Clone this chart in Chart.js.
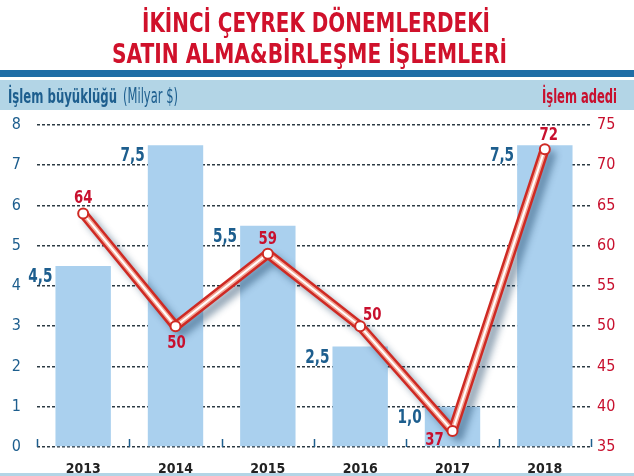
<!DOCTYPE html>
<html lang="tr">
<head>
    <meta charset="UTF-8">
    <title>Satın alma & birleşme işlemleri</title>
    <script src="https://cdn.jsdelivr.net/npm/chart.js"></script>
    <style>
        html, body { margin: 0; padding: 0; background: #fff; }
        #wrap { width: 634px; height: 476px; position: relative; }
    </style>
</head>
<body>
    <div id="wrap"><canvas id="grafik" width="634" height="476"></canvas></div>

    <script>
        // Veriler
        const yillar = ['2013', '2014', '2015', '2016', '2017', '2018'];
        const islemBuyuklugu = [4.5, 7.5, 5.5, 2.5, 1.0, 7.5];   // Milyar $
        const islemAdedi = [64, 50, 59, 50, 37, 72];
        const solEksen = { min: 0, max: 8, adim: 1 };
        const sagEksen = { min: 35, max: 75, adim: 5 };

        const baslik = ['İKİNCİ ÇEYREK DÖNEMLERDEKİ', 'SATIN ALMA&BİRLEŞME İŞLEMLERİ'];

        const NARROW = '"Liberation Sans Narrow", "DejaVu Sans Condensed", "Roboto Condensed", sans-serif';
        const MAVI = '#1d5e8e';
        const KIRMIZI = '#c8102e';

        // metni verilen genişliğe sıkıştırarak yaz
        function sigdir(ctx, text, x, y, w, font, color, align) {
            ctx.save();
            ctx.font = font;
            ctx.fillStyle = color;
            ctx.textBaseline = 'alphabetic';
            ctx.textAlign = align;
            const m = ctx.measureText(text).width;
            ctx.translate(x, y);
            ctx.scale(w / m, 1);
            ctx.fillText(text, 0, 0);
            ctx.restore();
        }

        // metni yatayda oranla daralt
        function dar(ctx, text, x, y, oran) {
            ctx.save();
            ctx.translate(x, y);
            ctx.scale(oran, 1);
            ctx.fillText(text, 0, 0);
            ctx.restore();
        }

        // başlık + bantlar
        const ustKisim = {
            id: 'ustKisim',
            beforeDraw(chart) {
                const ctx = chart.ctx;
                ctx.save();
                ctx.fillStyle = '#1f6ea6';
                ctx.fillRect(0, 70, 634, 7);
                ctx.fillStyle = '#b3d5e6';
                ctx.fillRect(0, 80, 634, 30);
                ctx.fillStyle = '#b3d5e6';
                ctx.fillRect(0, 473, 634, 3);
                ctx.restore();

                sigdir(ctx, baslik[0], 142, 32, 348, 'bold 26px ' + NARROW, '#d0112b', 'left');
                sigdir(ctx, baslik[1], 112, 63, 395, 'bold 26px ' + NARROW, '#d0112b', 'left');

                sigdir(ctx, 'İşlem büyüklüğü', 8, 103, 109, 'bold 19px ' + NARROW, MAVI, 'left');
                sigdir(ctx, '(Milyar $)', 123, 103, 55, '21px ' + NARROW, MAVI, 'left');
                sigdir(ctx, 'İşlem adedi', 542, 103, 75, 'bold 19px ' + NARROW, KIRMIZI, 'left');
            }
        };

        // kategori sınırlarındaki küçük çentikler
        const centikler = {
            id: 'centikler',
            beforeDatasetsDraw(chart) {
                const ctx = chart.ctx;
                const x = chart.scales.x;
                const alt = chart.chartArea.bottom;
                ctx.save();
                ctx.strokeStyle = '#1d5e8e';
                ctx.lineWidth = 1.5;
                for (let i = 0; i <= yillar.length; i++) {
                    const px = Math.round(x.getPixelForValue(i - 0.5)) + 0.5;
                    ctx.beginPath();
                    ctx.moveTo(px, alt - 8);
                    ctx.lineTo(px, alt);
                    ctx.stroke();
                }
                ctx.restore();
            }
        };

        // çizginin gölgesi
        const golge = {
            id: 'golge',
            beforeDatasetDraw(chart, args) {
                if (args.index === 1) {
                    const ctx = chart.ctx;
                    ctx.save();
                    ctx.shadowColor = 'rgba(20, 60, 95, 0.45)';
                    ctx.shadowBlur = 7;
                    ctx.shadowOffsetX = 6;
                    ctx.shadowOffsetY = 6;
                }
            },
            afterDatasetDraw(chart, args) {
                if (args.index === 1) chart.ctx.restore();
            }
        };

        // değer etiketleri
        const etiketKaydir = [[0, -15], [1, 17], [0, -14], [12, -11], [-18, 9], [4, -14]];
        const etiketler = {
            id: 'etiketler',
            afterDatasetsDraw(chart) {
                const ctx = chart.ctx;
                ctx.save();
                ctx.textBaseline = 'middle';

                ctx.font = 'bold 20px ' + NARROW;
                ctx.fillStyle = MAVI;
                ctx.textAlign = 'right';
                chart.getDatasetMeta(0).data.forEach((bar, i) => {
                    const txt = islemBuyuklugu[i].toFixed(1).replace('.', ',');
                    dar(ctx, txt, bar.x - bar.width / 2 - 3, bar.y + 11, 0.76);
                });

                ctx.font = 'bold 18px ' + NARROW;
                ctx.fillStyle = KIRMIZI;
                ctx.textAlign = 'center';
                chart.getDatasetMeta(3).data.forEach((pt, i) => {
                    const k = etiketKaydir[i];
                    dar(ctx, String(islemAdedi[i]), pt.x + k[0], pt.y + k[1], 0.82);
                });
                ctx.restore();
            }
        };

        const cizgiOrtak = {
            type: 'line',
            data: islemAdedi,
            yAxisID: 'y1',
            tension: 0,
            borderJoinStyle: 'round',
            borderCapStyle: 'round',
            pointRadius: 0
        };

        new Chart(document.getElementById('grafik'), {
            type: 'bar',
            data: {
                labels: yillar,
                datasets: [
                    {
                        label: 'İşlem büyüklüğü',
                        data: islemBuyuklugu,
                        backgroundColor: '#aad0ee',
                        barPercentage: 0.6,
                        categoryPercentage: 1,
                        yAxisID: 'y',
                        order: 10
                    },
                    Object.assign({}, cizgiOrtak, { label: 'kırmızı', borderColor: '#cf2a24', borderWidth: 10, order: 3 }),
                    Object.assign({}, cizgiOrtak, { label: 'pembe', borderColor: '#f3a898', borderWidth: 5, order: 2 }),
                    Object.assign({}, cizgiOrtak, {
                        label: 'İşlem adedi',
                        borderColor: '#ffffff',
                        borderWidth: 2,
                        order: 1,
                        pointRadius: 5,
                        pointBackgroundColor: '#ffffff',
                        pointBorderColor: '#cf2a24',
                        pointBorderWidth: 2
                    })
                ]
            },
            options: {
                responsive: false,
                animation: false,
                layout: { padding: { top: 125, left: 0, right: 0, bottom: 0 } },
                plugins: {
                    legend: { display: false },
                    tooltip: { enabled: false }
                },
                scales: {
                    x: {
                        offset: true,
                        grid: { display: false },
                        border: { display: false },
                        ticks: {
                            padding: 6,
                            color: '#222',
                            font: { family: NARROW, size: 14, weight: 'bold' }
                        },
                        afterFit(s) { s.height = 29; }
                    },
                    y: {
                        position: 'left',
                        min: solEksen.min,
                        max: solEksen.max,
                        ticks: {
                            stepSize: solEksen.adim,
                            padding: 16,
                            color: MAVI,
                            font: { family: NARROW, size: 16 }
                        },
                        grid: {
                            color: '#2d3b44',
                            lineWidth: 1.6,
                            drawTicks: false
                        },
                        border: { display: false, dash: [3, 2] },
                        afterFit(s) { s.width = 37; }
                    },
                    y1: {
                        position: 'right',
                        min: sagEksen.min,
                        max: sagEksen.max,
                        ticks: {
                            stepSize: sagEksen.adim,
                            padding: 6,
                            color: KIRMIZI,
                            font: { family: NARROW, size: 16 }
                        },
                        grid: { display: false, drawTicks: false },
                        border: { display: false },
                        afterFit(s) { s.width = 43; }
                    }
                }
            },
            plugins: [ustKisim, centikler, golge, etiketler]
        });
    </script>
</body>
</html>
